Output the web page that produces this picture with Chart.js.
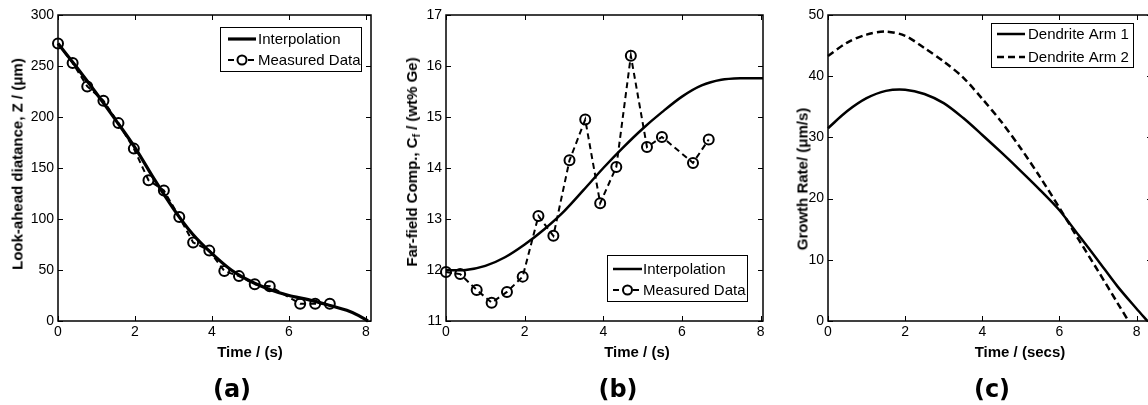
<!DOCTYPE html>
<html><head><meta charset="utf-8">
<script src="https://cdn.jsdelivr.net/npm/chart.js@4"></script>
<style>
html,body{margin:0;padding:0;background:#fff;overflow:hidden;width:1148px;height:405px;position:relative;}
canvas{position:absolute;top:0;}
.yt,.xt,.pl{position:absolute;white-space:nowrap;color:#000;font-family:"Liberation Sans",Arial,sans-serif;font-weight:bold;font-size:15px;line-height:1;}
.yt{transform:translate(-50%,-50%) rotate(-90deg);}
.xt{transform:translate(-50%,-50%);}
.pl{transform:translate(-50%,-50%);font-family:"DejaVu Sans",sans-serif;font-size:24px;}
sub{font-size:10px;vertical-align:-3px;}
</style></head><body>
<canvas id="ca" width="380" height="345" style="left:0"></canvas>
<canvas id="cb" width="390" height="345" style="left:380px"></canvas>
<canvas id="cc" width="385" height="345" style="left:770px"></canvas>
<div class="yt" style="left:17px;top:164px">Look-ahead diatance, Z / (μm)</div>
<div class="xt" style="left:250px;top:351px">Time / (s)</div>
<div class="pl" style="left:232px;top:389px">(a)</div>
<div class="yt" style="left:413px;top:162px">Far-field Comp., C<sub>f</sub> / (wt% Ge)</div>
<div class="xt" style="left:637px;top:351px">Time / (s)</div>
<div class="pl" style="left:618px;top:389px">(b)</div>
<div class="yt" style="left:802px;top:179px">Growth Rate/ (μm/s)</div>
<div class="xt" style="left:1020px;top:351px">Time / (secs)</div>
<div class="pl" style="left:992px;top:389px">(c)</div>
<script>
// ---------- data ----------
const xTickLabels = [0, 2, 4, 6, 8];
const aYTicks = [0, 50, 100, 150, 200, 250, 300];
const bYTicks = [11, 12, 13, 14, 15, 16, 17];
const cYTicks = [0, 10, 20, 30, 40, 50];

// (a) look-ahead distance
const aMeasTime = [0, 0.38, 0.76, 1.18, 1.57, 1.97, 2.35, 2.75, 3.15, 3.51, 3.93, 4.32, 4.70, 5.11, 5.50, 6.29, 6.68, 7.06];
const aMeasZ    = [272, 253, 230, 216, 194, 169, 138, 128, 102, 77, 69, 49, 44, 36, 34, 17, 17, 17];
const aInterpTime = [0, 0.5, 1, 1.5, 2, 2.5, 3, 3.5, 4, 4.5, 5, 5.5, 6, 6.5, 7, 7.5, 7.8, 8.05];
const aInterpZ    = [272, 248, 223, 197, 170, 139, 110, 85, 66, 50, 39, 31, 25, 21, 16, 10.5, 5.5, 0];

// (b) far-field composition
const bMeasTime = [0, 0.36, 0.78, 1.16, 1.55, 1.95, 2.35, 2.73, 3.14, 3.54, 3.92, 4.33, 4.70, 5.11, 5.49, 6.28, 6.68];
const bMeasC    = [11.96, 11.92, 11.61, 11.36, 11.57, 11.87, 13.06, 12.67, 14.15, 14.95, 13.31, 14.02, 16.2, 14.41, 14.61, 14.10, 14.56];
const bInterpTime = [0, 0.5, 1, 1.5, 2, 2.5, 3, 3.5, 4, 4.5, 5, 5.5, 6, 6.5, 7, 7.5, 8.06];
const bInterpC    = [12.0, 12.0, 12.08, 12.25, 12.5, 12.8, 13.15, 13.57, 14.0, 14.4, 14.77, 15.1, 15.4, 15.62, 15.73, 15.76, 15.76];

// (c) growth rate
const cTime1 = [0, 0.5, 1, 1.5, 2, 2.5, 3, 3.5, 4, 4.5, 5, 5.5, 6, 6.5, 7, 7.5, 8, 8.28];
const cArm1  = [31.5, 34.3, 36.4, 37.6, 37.8, 37.1, 35.6, 33.2, 30.4, 27.5, 24.5, 21.4, 18.1, 14.0, 9.9, 5.7, 2.0, 0];
const cTime2 = [0, 0.5, 1, 1.5, 2, 2.5, 3, 3.5, 4, 4.5, 5, 5.5, 6, 6.5, 7, 7.5, 7.79];
const cArm2  = [43.3, 45.5, 46.8, 47.3, 46.6, 44.6, 42.4, 39.8, 36.3, 32.5, 28.2, 23.5, 18.5, 13.3, 8.2, 3.0, 0];

// ---------- helpers ----------
const FONT = '"Liberation Sans", Arial, sans-serif';
const pts = (xs, ys) => xs.map((x, i) => ({x: x, y: ys[i]}));

const framePlugin = {
  id: 'matlabFrame',
  afterDraw(chart) {
    const ctx = chart.ctx, a = chart.chartArea;
    const xs = chart.scales.x, ys = chart.scales.y;
    ctx.save();
    ctx.strokeStyle = '#000';
    ctx.lineWidth = 1;
    ctx.beginPath();
    xs.ticks.forEach(t => {
      const p = Math.round(xs.getPixelForValue(t.value)) + 0.5;
      ctx.moveTo(p, a.bottom); ctx.lineTo(p, a.bottom - 5);
      ctx.moveTo(p, a.top); ctx.lineTo(p, a.top + 5);
    });
    ys.ticks.forEach(t => {
      const p = Math.round(ys.getPixelForValue(t.value)) + 0.5;
      ctx.moveTo(a.left, p); ctx.lineTo(a.left + 5, p);
      ctx.moveTo(a.right, p); ctx.lineTo(a.right - 5, p);
    });
    ctx.stroke();
    ctx.lineWidth = 1.5;
    ctx.strokeRect(Math.round(a.left), Math.round(a.top), Math.round(a.right - a.left), Math.round(a.bottom - a.top));
    ctx.restore();
  }
};

const legendPlugin = {
  id: 'boxLegend',
  afterDraw(chart, args, o) {
    if (!o || !o.box) return;
    const ctx = chart.ctx;
    ctx.save();
    ctx.fillStyle = '#fff';
    ctx.fillRect(o.box[0], o.box[1], o.box[2], o.box[3]);
    ctx.strokeStyle = '#000';
    ctx.lineWidth = 1;
    ctx.strokeRect(o.box[0] + 0.5, o.box[1] + 0.5, o.box[2], o.box[3]);
    chart.data.datasets.forEach((ds, i) => {
      const y = o.rows[i];
      ctx.strokeStyle = '#000';
      ctx.lineWidth = ds.borderWidth;
      ctx.setLineDash(ds.borderDash || []);
      ctx.beginPath();
      ctx.moveTo(o.lx[0], y); ctx.lineTo(o.lx[1], y);
      ctx.stroke();
      ctx.setLineDash([]);
      if (ds.pointRadius > 0) {
        ctx.lineWidth = ds.pointBorderWidth;
        ctx.fillStyle = '#fff';
        ctx.beginPath();
        ctx.arc((o.lx[0] + o.lx[1]) / 2, y, ds.pointRadius - 0.5, 0, Math.PI * 2);
        ctx.fill(); ctx.stroke();
      }
      ctx.fillStyle = '#000';
      ctx.font = '15px ' + FONT;
      ctx.textBaseline = 'middle';
      ctx.textAlign = 'left';
      ctx.fillText(ds.label, o.tx, y + 1);
    });
    ctx.restore();
  }
};

function makeChart(id, datasets, xmax, ymin, ymax, yTicks, yWidth, padRight, legendOpts) {
  return new Chart(document.getElementById(id), {
    type: 'scatter',
    data: { datasets: datasets },
    options: {
      responsive: false,
      animation: false,
      layout: { padding: { top: 15, right: padRight, left: 0, bottom: 0 } },
      plugins: { legend: { display: false }, tooltip: { enabled: false }, boxLegend: legendOpts },
      scales: {
        x: {
          type: 'linear', min: 0, max: xmax,
          afterBuildTicks: ax => { ax.ticks = xTickLabels.map(v => ({value: v})); },
          afterFit: s => { s.height = 24; },
          grid: { display: false, drawTicks: false, tickLength: 0 }, border: { display: false },
          ticks: { color: '#000', font: { family: FONT, size: 14 }, padding: 3, maxRotation: 0, autoSkip: false }
        },
        y: {
          type: 'linear', min: ymin, max: ymax,
          afterBuildTicks: ax => { ax.ticks = yTicks.map(v => ({value: v})); },
          afterFit: s => { s.width = yWidth; },
          grid: { display: false, drawTicks: false, tickLength: 0 }, border: { display: false },
          ticks: { color: '#000', font: { family: FONT, size: 14 }, padding: 4, autoSkip: false }
        }
      }
    },
    plugins: [framePlugin, legendPlugin]
  });
}

const lineDs = (label, data, w) => ({ label, data, showLine: true, borderColor: '#000', borderWidth: w, pointRadius: 0, tension: 0.3, clip: false });
const measDs = (label, data) => ({ label, data, showLine: true, borderColor: '#000', borderWidth: 2, borderDash: [6, 4],
  pointRadius: 5, pointBorderWidth: 2, pointBorderColor: '#000', pointBackgroundColor: 'rgba(0,0,0,0)', clip: false });

makeChart('ca', [
  lineDs('Interpolation', pts(aInterpTime, aInterpZ), 3.2),
  measDs('Measured Data', pts(aMeasTime, aMeasZ))
], 8.13, 0, 300, aYTicks, 58, 9,
  { box: [220, 27, 141, 44], rows: [39, 60], lx: [228, 256], tx: 258 });

makeChart('cb', [
  lineDs('Interpolation', pts(bInterpTime, bInterpC), 2.5),
  measDs('Measured Data', pts(bMeasTime, bMeasC))
], 8.06, 11, 17, bYTicks, 66, 6,
  { box: [227, 255, 140, 46], rows: [269, 290], lx: [233, 262], tx: 263 });

const cDs2 = lineDs('Dendrite Arm 2', pts(cTime2, cArm2), 2.5);
cDs2.borderDash = [7, 4];
makeChart('cc', [
  lineDs('Dendrite Arm 1', pts(cTime1, cArm1), 2.5),
  cDs2
], 8.4, 0, 50, cYTicks, 58, 3,
  { box: [221, 23, 142, 44], rows: [34, 57], lx: [227, 255], tx: 258 });
</script>
</body></html>
